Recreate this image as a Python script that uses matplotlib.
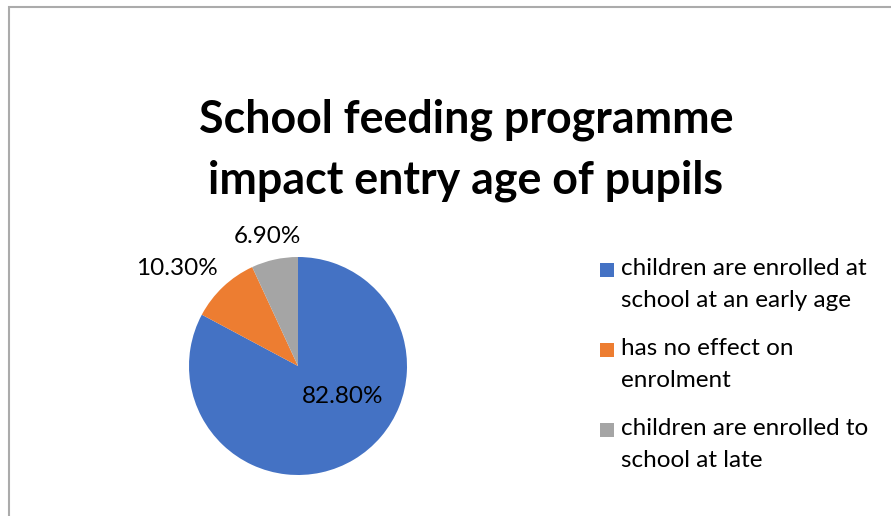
import matplotlib.pyplot as plt
from matplotlib.patches import Rectangle

labels = ["children are enrolled at\nschool at an early age",
          "has no effect on\nenrolment",
          "children are enrolled to\nschool at late"]
values = [82.8, 10.3, 6.9]
colors = ["#4472C4", "#ED7D31", "#A5A5A5"]
title = "School feeding programme\nimpact entry age of pupils"

plt.rcParams['font.family'] = ['Lato', 'DejaVu Sans']

W, H = 891, 516
fig = plt.figure(figsize=(W / 100, H / 100), dpi=100)

# chart border (cut at right / bottom like the original)
fig.patches.append(Rectangle((9 / W, -0.1), 1.2, (H - 7) / H + 0.1,
                             transform=fig.transFigure, fill=False,
                             edgecolor="#ABABAB", linewidth=1.5))

fig.text(466 / W, 1 - 150 / H, title, ha="center", va="center",
         fontsize=32.2, fontweight="bold", linespacing=1.55)

# pie: center (298, 366), radius ~109 px
r = 109
ax = fig.add_axes([(298 - r) / W, (H - 366 - r) / H, 2 * r / W, 2 * r / H])
wedges, texts = ax.pie(values, colors=colors, startangle=90, counterclock=False,
                       wedgeprops=dict(linewidth=0))
ax.set_aspect("auto")
ax.set_xlim(-1, 1)
ax.set_ylim(-1, 1)

pct = ["%.2f%%" % v for v in values]
ax.text(0.41, -0.28, pct[0], ha="center", va="center", fontsize=17.5)
ax.text(-1.11, 0.89, pct[1], ha="center", va="center", fontsize=17.5)
ax.text(-0.28, 1.19, pct[2], ha="center", va="center", fontsize=17.5)

# legend drawn by hand: square next to the first line of each entry
for i, (lab, c) in enumerate(zip(labels, colors)):
    y1 = 270 + 80 * i
    fig.patches.append(Rectangle((600 / W, 1 - (y1 + 7) / H), 14 / W, 14 / H,
                                 transform=fig.transFigure, facecolor=c,
                                 edgecolor="none"))
    fig.text(621 / W, 1 - (y1 - 12) / H, lab, ha="left", va="top",
             fontsize=17.5, linespacing=1.65)

fig.savefig("out.png", dpi=100)
